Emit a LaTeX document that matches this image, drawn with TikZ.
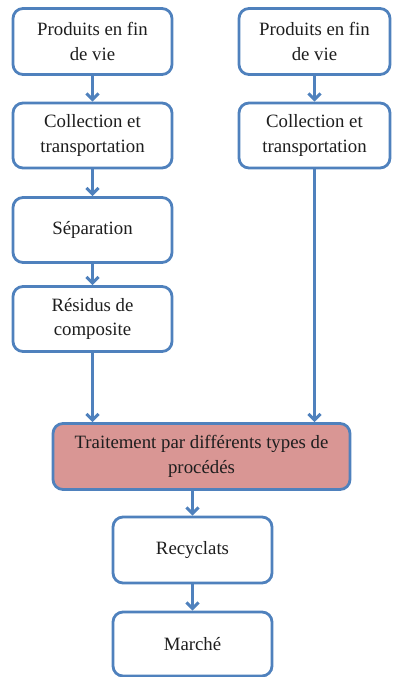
\documentclass[tikz,border=0pt]{standalone}
\usepackage{fontspec}
\setmainfont{Liberation Serif}
\usetikzlibrary{arrows.meta}
\definecolor{bleu}{HTML}{4F81BD}
\definecolor{rouge}{HTML}{D99694}
\definecolor{texte}{HTML}{1E1E1E}
\begin{document}
\begin{tikzpicture}[x=1pt,y=-1pt,
  boite/.style={draw=bleu, line width=2.8pt, rounded corners=10pt, fill=white,
    align=center, text=texte, inner sep=0pt,
    font=\fontsize{18.8}{24.5}\selectfont},
  fleche/.style={draw=bleu, line width=3pt,
    -{Straight Barb[length=6pt,width=12pt,line width=3pt]}}]
\useasboundingbox (0,0) rectangle (392,677);
\node[boite, minimum width=159pt, minimum height=66pt] (l1) at (92.5,41.5) {Produits en fin\\de vie};
\node[boite, minimum width=159pt, minimum height=65pt] (l2) at (92.5,135.5) {Collection et\\transportation};
\node[boite, minimum width=159pt, minimum height=65pt] (l3) at (92.5,230) {Séparation};
\node[boite, minimum width=159pt, minimum height=65pt] (l4) at (92.5,319) {Résidus de\\composite};
\node[boite, minimum width=151pt, minimum height=66pt] (r1) at (314.5,41.5) {Produits en fin\\de vie};
\node[boite, minimum width=151pt, minimum height=65pt] (r2) at (314.5,135.5) {Collection et\\transportation};
\node[boite, fill=rouge, minimum width=297pt, minimum height=66pt] (t) at (201.5,456.5) {Traitement par différents types de\\procédés};
\node[boite, minimum width=159pt, minimum height=66pt] (rc) at (192.5,550) {Recyclats};
\node[boite, minimum width=159pt, minimum height=64pt] (m) at (192.5,644) {Marché};
\draw[fleche] (l1) -- (l2);
\draw[fleche] (l2) -- (l3);
\draw[fleche] (l3) -- (l4);
\draw[fleche] (l4.south) -- (l4.south |- t.north);
\draw[fleche] (r1) -- (r2);
\draw[fleche] (r2.south) -- (r2.south |- t.north);
\draw[fleche] (t.south -| rc.north) -- (rc.north);
\draw[fleche] (rc) -- (m);
\end{tikzpicture}
\end{document}
